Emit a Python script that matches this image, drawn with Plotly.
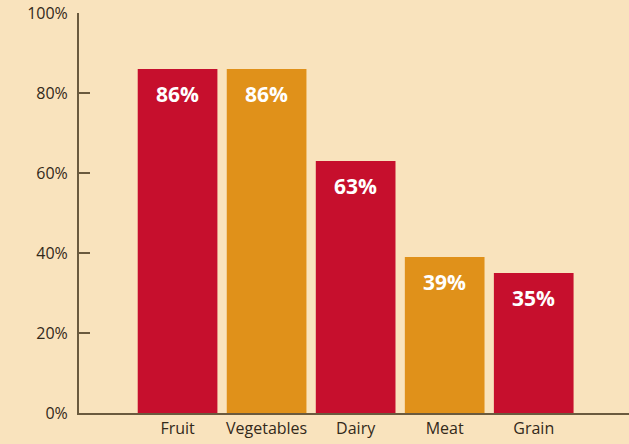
import plotly.graph_objects as go

categories = ["Fruit", "Vegetables", "Dairy", "Meat", "Grain"]
values = [86, 86, 63, 39, 35]
labels = ["86%", "86%", "63%", "39%", "35%"]
colors = ["#C60F2D", "#E0911A", "#C60F2D", "#E0911A", "#C60F2D"]
ytick_vals = [0, 20, 40, 60, 80, 100]
ytick_text = ["0%", "20%", "40%", "60%", "80%", "100%"]

bg = "#F9E3BD"
axis_col = "#6a5a3e"
text_col = "#33291a"

fig = go.Figure()
fig.add_trace(go.Bar(
    x=list(range(len(categories))), y=values,
    marker=dict(color=colors, line=dict(width=0)),
    width=0.895,
    hoverinfo="skip",
))
for i, (v, t) in enumerate(zip(values, labels)):
    fig.add_annotation(x=i, y=v, text=t, showarrow=False, yshift=-25,
                       font=dict(family="Open Sans", size=21, color="white", weight="bold"))

fig.update_layout(
    width=629, height=444,
    margin=dict(l=79, r=0, t=13, b=31),
    paper_bgcolor=bg, plot_bgcolor=bg,
    showlegend=False,
    xaxis=dict(range=[-1.107, 5.07], tickvals=list(range(len(categories))),
               ticktext=categories, showgrid=False, zeroline=False,
               showline=True, linecolor=axis_col, linewidth=2,
               ticks="", tickfont=dict(family="Open Sans", size=16, color=text_col, weight=500),
               fixedrange=True),
    yaxis=dict(range=[0, 100], tickvals=ytick_vals, ticktext=ytick_text,
               showgrid=False, zeroline=False, showline=True,
               linecolor=axis_col, linewidth=2, ticks="inside", ticklen=11,
               tickwidth=2, tickcolor=axis_col, ticklabelstandoff=6,
               tickfont=dict(family="Open Sans", size=16, color=text_col, weight=500),
               fixedrange=True),
)
fig.write_html("out.html")
